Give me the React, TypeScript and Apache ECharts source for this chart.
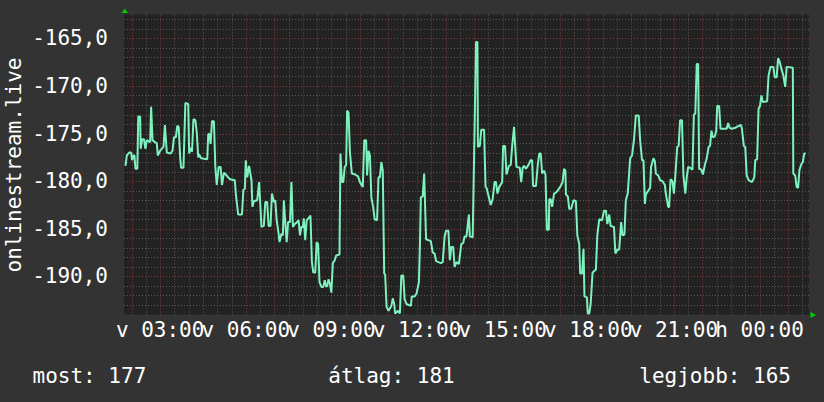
import React, { useEffect, useRef } from 'react';
import * as echarts from 'echarts';

// time axis: minutes since Sunday 00:00; the graph covers 24 h from 01:44
const START_MIN = 104;
const SPAN_MIN = 1440;

// minutes after START_MIN
const offsetMin = [
  3, 6, 11, 15, 17, 20, 22, 24, 28, 30, 34, 35, 38, 42, 45, 48, 55, 57, 60, 65,
  69, 71, 76, 83, 86, 90, 98, 102, 105, 109, 112, 115, 118, 120, 125, 129, 135, 137, 140, 143,
  146, 150, 153, 156, 158, 162, 175, 177, 179, 182, 185, 189, 192, 195, 199, 203, 206, 210, 214, 219,
  223, 233, 235, 240, 248, 251, 254, 256, 259, 263, 268, 270, 273, 280, 284, 289, 294, 297, 301, 304,
  308, 311, 315, 318, 321, 325, 327, 331, 334, 336, 339, 342, 345, 349, 352, 355, 359, 364, 367, 370,
  373, 376, 378, 381, 384, 388, 392, 395, 398, 402, 405, 408, 411, 415, 419, 422, 425, 427, 430, 433,
  436, 439, 443, 446, 453, 455, 458, 461, 464, 467, 469, 472, 475, 479, 486, 492, 496, 502, 505, 509,
  511, 514, 517, 520, 524, 527, 532, 535, 538, 541, 544, 547, 549, 552, 556, 562, 565, 568, 570, 576,
  580, 583, 587, 590, 594, 603, 605, 611, 615, 620, 622, 624, 628, 631, 632, 635, 645, 649, 653, 656,
  666, 670, 674, 677, 682, 685, 688, 692, 695, 699, 704, 709, 713, 716, 720, 725, 727, 733, 736, 740,
  743, 744, 748, 751, 757, 760, 762, 767, 771, 775, 779, 782, 785, 789, 795, 797, 801, 804, 809, 813,
  816, 820, 822, 825, 832, 835, 838, 841, 845, 849, 855, 858, 860, 866, 870, 873, 876, 879, 883, 886,
  889, 893, 894, 897, 900, 904, 908, 913, 918, 922, 925, 928, 929, 933, 936, 940, 945, 950, 953, 957,
  959, 963, 966, 967, 968, 973, 975, 978, 981, 985, 989, 992, 995, 999, 1005, 1009, 1013, 1016, 1020, 1023,
  1030, 1033, 1037, 1041, 1045, 1048, 1052, 1055, 1059, 1064, 1068, 1072, 1076, 1082, 1085, 1089, 1092, 1095, 1097, 1102,
  1106, 1108, 1113, 1116, 1118, 1123, 1127, 1132, 1137, 1139, 1144, 1146, 1149, 1153, 1156, 1159, 1163, 1166, 1169, 1173,
  1176, 1180, 1183, 1186, 1190, 1195, 1198, 1201, 1204, 1207, 1209, 1214, 1217, 1221, 1225, 1229, 1232, 1235, 1238, 1242,
  1245, 1247, 1251, 1254, 1267, 1270, 1273, 1278, 1285, 1292, 1297, 1299, 1303, 1306, 1309, 1313, 1320, 1325, 1327, 1331,
  1334, 1337, 1340, 1343, 1352, 1355, 1359, 1365, 1368, 1372, 1375, 1378, 1381, 1386, 1390, 1393, 1406, 1407, 1411, 1414,
  1417, 1420, 1424, 1427, 1430, 1433,
];

const values = [
  -178.4, -177.3, -177.0, -177.0, -177.8, -177.3, -177.3, -178.7, -178.7, -173.2, -173.2, -176.6, -175.6, -175.6, -176.6, -175.7, -175.9, -172.2, -175.7, -175.9,
  -176.0, -177.3, -176.8, -176.4, -174.1, -177.0, -177.1, -176.8, -175.4, -175.4, -174.2, -174.3, -177.5, -178.6, -178.6, -171.8, -171.9, -177.1, -176.5, -176.9,
  -173.5, -173.6, -174.9, -177.5, -177.2, -177.6, -177.7, -175.1, -175.0, -176.1, -173.7, -173.7, -178.5, -180.4, -178.5, -178.5, -180.4, -179.1, -179.3, -179.6,
  -179.8, -179.9, -181.3, -183.5, -183.5, -180.9, -180.8, -177.8, -179.6, -178.4, -179.9, -182.7, -182.1, -182.0, -180.1, -184.8, -184.7, -182.2, -182.2, -184.7,
  -184.7, -181.3, -182.2, -182.0, -184.1, -185.5, -186.4, -185.5, -185.7, -182.0, -184.3, -186.4, -184.3, -184.3, -180.1, -184.8, -184.5, -184.3, -184.1, -185.7,
  -184.8, -184.8, -183.9, -186.2, -184.1, -183.9, -183.6, -188.5, -189.6, -189.6, -186.4, -186.6, -190.6, -191.1, -191.1, -190.4, -191.1, -191.0, -190.3, -190.8,
  -191.7, -188.6, -188.3, -187.8, -187.7, -177.1, -180.1, -180.1, -178.5, -178.3, -172.6, -172.8, -177.0, -179.2, -179.3, -179.5, -180.1, -180.6, -175.7, -175.7,
  -179.4, -176.8, -177.3, -181.7, -182.8, -184.0, -184.1, -179.6, -179.6, -178.0, -178.9, -189.7, -189.8, -193.2, -193.6, -193.1, -192.3, -192.9, -193.9, -193.6,
  -193.9, -189.9, -189.9, -192.4, -192.9, -193.1, -192.1, -192.1, -191.8, -190.6, -186.9, -181.7, -181.6, -179.2, -179.2, -186.1, -186.3, -187.5, -187.6, -188.4,
  -188.6, -188.5, -185.8, -185.2, -185.2, -188.3, -186.9, -186.9, -189.0, -188.5, -188.7, -186.6, -186.5, -185.8, -185.8, -183.5, -185.8, -185.9, -177.3, -165.4,
  -165.4, -176.4, -176.3, -174.6, -174.6, -180.6, -180.7, -181.7, -182.5, -181.9, -180.1, -180.1, -181.3, -180.6, -180.1, -176.3, -176.3, -179.3, -178.4, -178.3,
  -176.3, -174.3, -176.0, -178.5, -178.6, -180.1, -178.6, -178.4, -178.7, -178.4, -177.8, -177.8, -180.5, -180.5, -178.2, -177.1, -177.1, -179.2, -178.9, -179.3,
  -185.1, -185.1, -181.9, -181.9, -182.7, -181.3, -181.2, -180.9, -180.5, -180.1, -178.7, -178.9, -181.4, -181.6, -182.9, -182.9, -182.0, -182.1, -185.7, -186.6,
  -189.7, -189.7, -187.1, -187.1, -192.1, -192.2, -193.9, -193.9, -192.9, -189.6, -189.4, -189.3, -185.7, -184.0, -184.1, -183.1, -183.1, -184.5, -183.5, -184.7,
  -184.8, -187.6, -187.2, -187.2, -184.3, -185.7, -185.6, -182.0, -181.3, -177.6, -177.3, -175.7, -173.1, -173.1, -175.7, -177.8, -177.8, -182.4, -181.4, -181.0,
  -180.7, -178.5, -177.6, -177.9, -179.2, -179.4, -179.9, -180.0, -180.4, -181.3, -182.7, -182.7, -179.8, -180.0, -181.3, -179.4, -176.4, -176.3, -173.6, -173.6,
  -179.4, -181.3, -179.6, -178.5, -178.6, -178.8, -173.0, -172.9, -167.7, -167.7, -178.7, -178.8, -179.3, -178.3, -177.6, -176.4, -176.3, -174.7, -175.4, -175.3,
  -174.7, -172.1, -172.1, -174.5, -174.5, -173.9, -174.4, -174.5, -174.4, -174.2, -174.1, -174.5, -176.3, -176.4, -179.4, -179.9, -180.1, -179.6, -177.8, -177.7,
  -172.4, -172.1, -171.0, -171.7, -171.6, -168.9, -168.0, -168.0, -169.1, -169.1, -167.1, -167.4, -168.0, -168.9, -170.1, -168.0, -168.1, -179.2, -179.4, -180.6,
  -180.7, -178.8, -178.2, -178.0, -177.1, -177.1,
];

const Y_MIN = -194;
const Y_MAX = -162.5;
// x labels every 3 h, split in two alternating sets so none overlaps its neighbour
const xLabelTimesA = [180, 540, 900, 1260];
const xLabelTimesB = [360, 720, 1080, 1440];
const dayPrefix = ['v', 'h'];
const yAxisTitle = 'onlinestream.live';
const legendLabels = ['most', 'átlag', 'legjobb'];
const legendValues = [177, 181, 165];

const FONT = "'DejaVu Sans Mono', monospace";
const BG = '#333333';
const CANVAS = '#222222';
const GRID_MINOR = '#5a5a5a';
const GRID_MAJOR = '#823a3a';
const LINE = '#7ef2be';
const ARROW = '#00cc00';
const TEXT = '#ffffff';

const pad2 = (n: number) => String(n).padStart(2, '0');
const fmtTime = (m: number) => {
  const d = Math.floor(m / 1440);
  const mm = ((m % 1440) + 1440) % 1440;
  return `${dayPrefix[d] ?? ''} ${pad2(Math.floor(mm / 60))}:${pad2(Math.round(mm % 60))}`;
};

export default function App() {
  const ref = useRef<HTMLDivElement>(null);
  useEffect(() => {
    if (!ref.current) return;
    const chart = echarts.init(ref.current, null, { renderer: 'svg' });
    const xMin = START_MIN;
    const xMax = START_MIN + SPAN_MIN;

    const vGrid: number[][] = [];
    for (let m = Math.ceil(xMin / 30) * 30; m < xMax; m += 30) {
      vGrid.push([m, Y_MIN, m % 60 === 0 ? 1 : 0]);
    }
    const hGrid: number[][] = [];
    for (let v = Math.ceil(Y_MIN) + 1; v < Y_MAX; v += 1) {
      hGrid.push([xMin, v, v % 5 === 0 ? 1 : 0]);
    }

    const lineData = offsetMin.map((o, i) => [START_MIN + o, values[i]]);

    const textStyle = (text: string, align: string, x: number, y: number, rotation = 0) => ({
      type: 'text',
      x,
      y,
      rotation,
      silent: true,
      style: {
        text,
        fill: TEXT,
        font: `21px ${FONT}`,
        align,
        verticalAlign: 'middle',
        textAlign: align,
        textVerticalAlign: 'middle',
      },
    });

    const xAxisFor = (labels: number[]) => ({
      type: 'value',
      min: xMin,
      max: xMax,
      position: 'bottom',
      offset: 0,
      axisLine: { show: false },
      axisTick: { show: false },
      splitLine: { show: false },
      axisLabel: {
        customValues: labels,
        formatter: (v: number) => fmtTime(v),
        color: TEXT,
        fontFamily: FONT,
        fontSize: 21,
        margin: 5,
        hideOverlap: false,
        showMinLabel: true,
        showMaxLabel: true,
      },
    });

    chart.setOption({
      animation: false,
      backgroundColor: BG,
      grid: {
        left: 124,
        top: 14.5,
        width: 685,
        height: 300,
        show: true,
        backgroundColor: CANVAS,
        borderWidth: 0,
        containLabel: false,
        outerBoundsMode: 'none',
      },
      xAxis: [xAxisFor(xLabelTimesA), xAxisFor(xLabelTimesB)],
      yAxis: {
        type: 'value',
        min: Y_MIN,
        max: Y_MAX,
        interval: 1,
        axisLine: { show: false },
        axisTick: { show: false },
        splitLine: { show: false },
        axisLabel: {
          formatter: (v: number) =>
            Number.isInteger(v) && v % 5 === 0 ? v.toFixed(1).replace('.', ',') : '',
          color: TEXT,
          fontFamily: FONT,
          fontSize: 21,
          margin: 16,
          showMinLabel: true,
          showMaxLabel: true,
        },
      },
      series: [
        {
          type: 'custom',
          silent: true,
          z: 1,
          xAxisIndex: 0,
          data: vGrid,
          renderItem: (params: any, api: any) => {
            const p = api.coord([api.value(0), Y_MIN]);
            const cs = params.coordSys;
            const x = Math.round(p[0]) + 0.5;
            return {
              type: 'line',
              shape: { x1: x, y1: cs.y, x2: x, y2: cs.y + cs.height + 2 },
              style: { stroke: api.value(2) ? GRID_MAJOR : GRID_MINOR, lineWidth: 1, lineDash: [1, 2] },
            };
          },
        },
        {
          type: 'custom',
          silent: true,
          z: 1,
          xAxisIndex: 0,
          data: hGrid,
          renderItem: (params: any, api: any) => {
            const p = api.coord([xMin, api.value(1)]);
            const cs = params.coordSys;
            const y = Math.round(p[1]) + 0.5;
            return {
              type: 'line',
              shape: { x1: cs.x, y1: y, x2: cs.x + cs.width, y2: y },
              style: { stroke: api.value(2) ? GRID_MAJOR : GRID_MINOR, lineWidth: 1, lineDash: [1, 2] },
            };
          },
        },
        {
          type: 'line',
          z: 5,
          xAxisIndex: 0,
          data: lineData,
          showSymbol: false,
          symbol: 'none',
          lineStyle: { color: LINE, width: 2 },
          clip: true,
        },
      ],
      graphic: [
        textStyle(yAxisTitle, 'center', 14, 165, Math.PI / 2),
        textStyle(`${legendLabels[0]}: ${legendValues[0]}`, 'left', 32.5, 376),
        textStyle(`${legendLabels[1]}: ${legendValues[1]}`, 'center', 391.5, 376),
        textStyle(`${legendLabels[2]}: ${legendValues[2]}`, 'right', 791, 376),
        {
          type: 'polygon',
          silent: true,
          shape: { points: [[121.5, 13], [128, 13], [124.75, 8.5]] },
          style: { fill: ARROW },
        },
        {
          type: 'polygon',
          silent: true,
          shape: { points: [[810.5, 312], [810.5, 318], [816, 315]] },
          style: { fill: ARROW },
        },
      ],
    });
    return () => chart.dispose();
  }, []);
  return (
    <div
      ref={ref}
      style={{ position: 'absolute', left: 0, top: 0, width: 824, height: 402 }}
    />
  );
}
